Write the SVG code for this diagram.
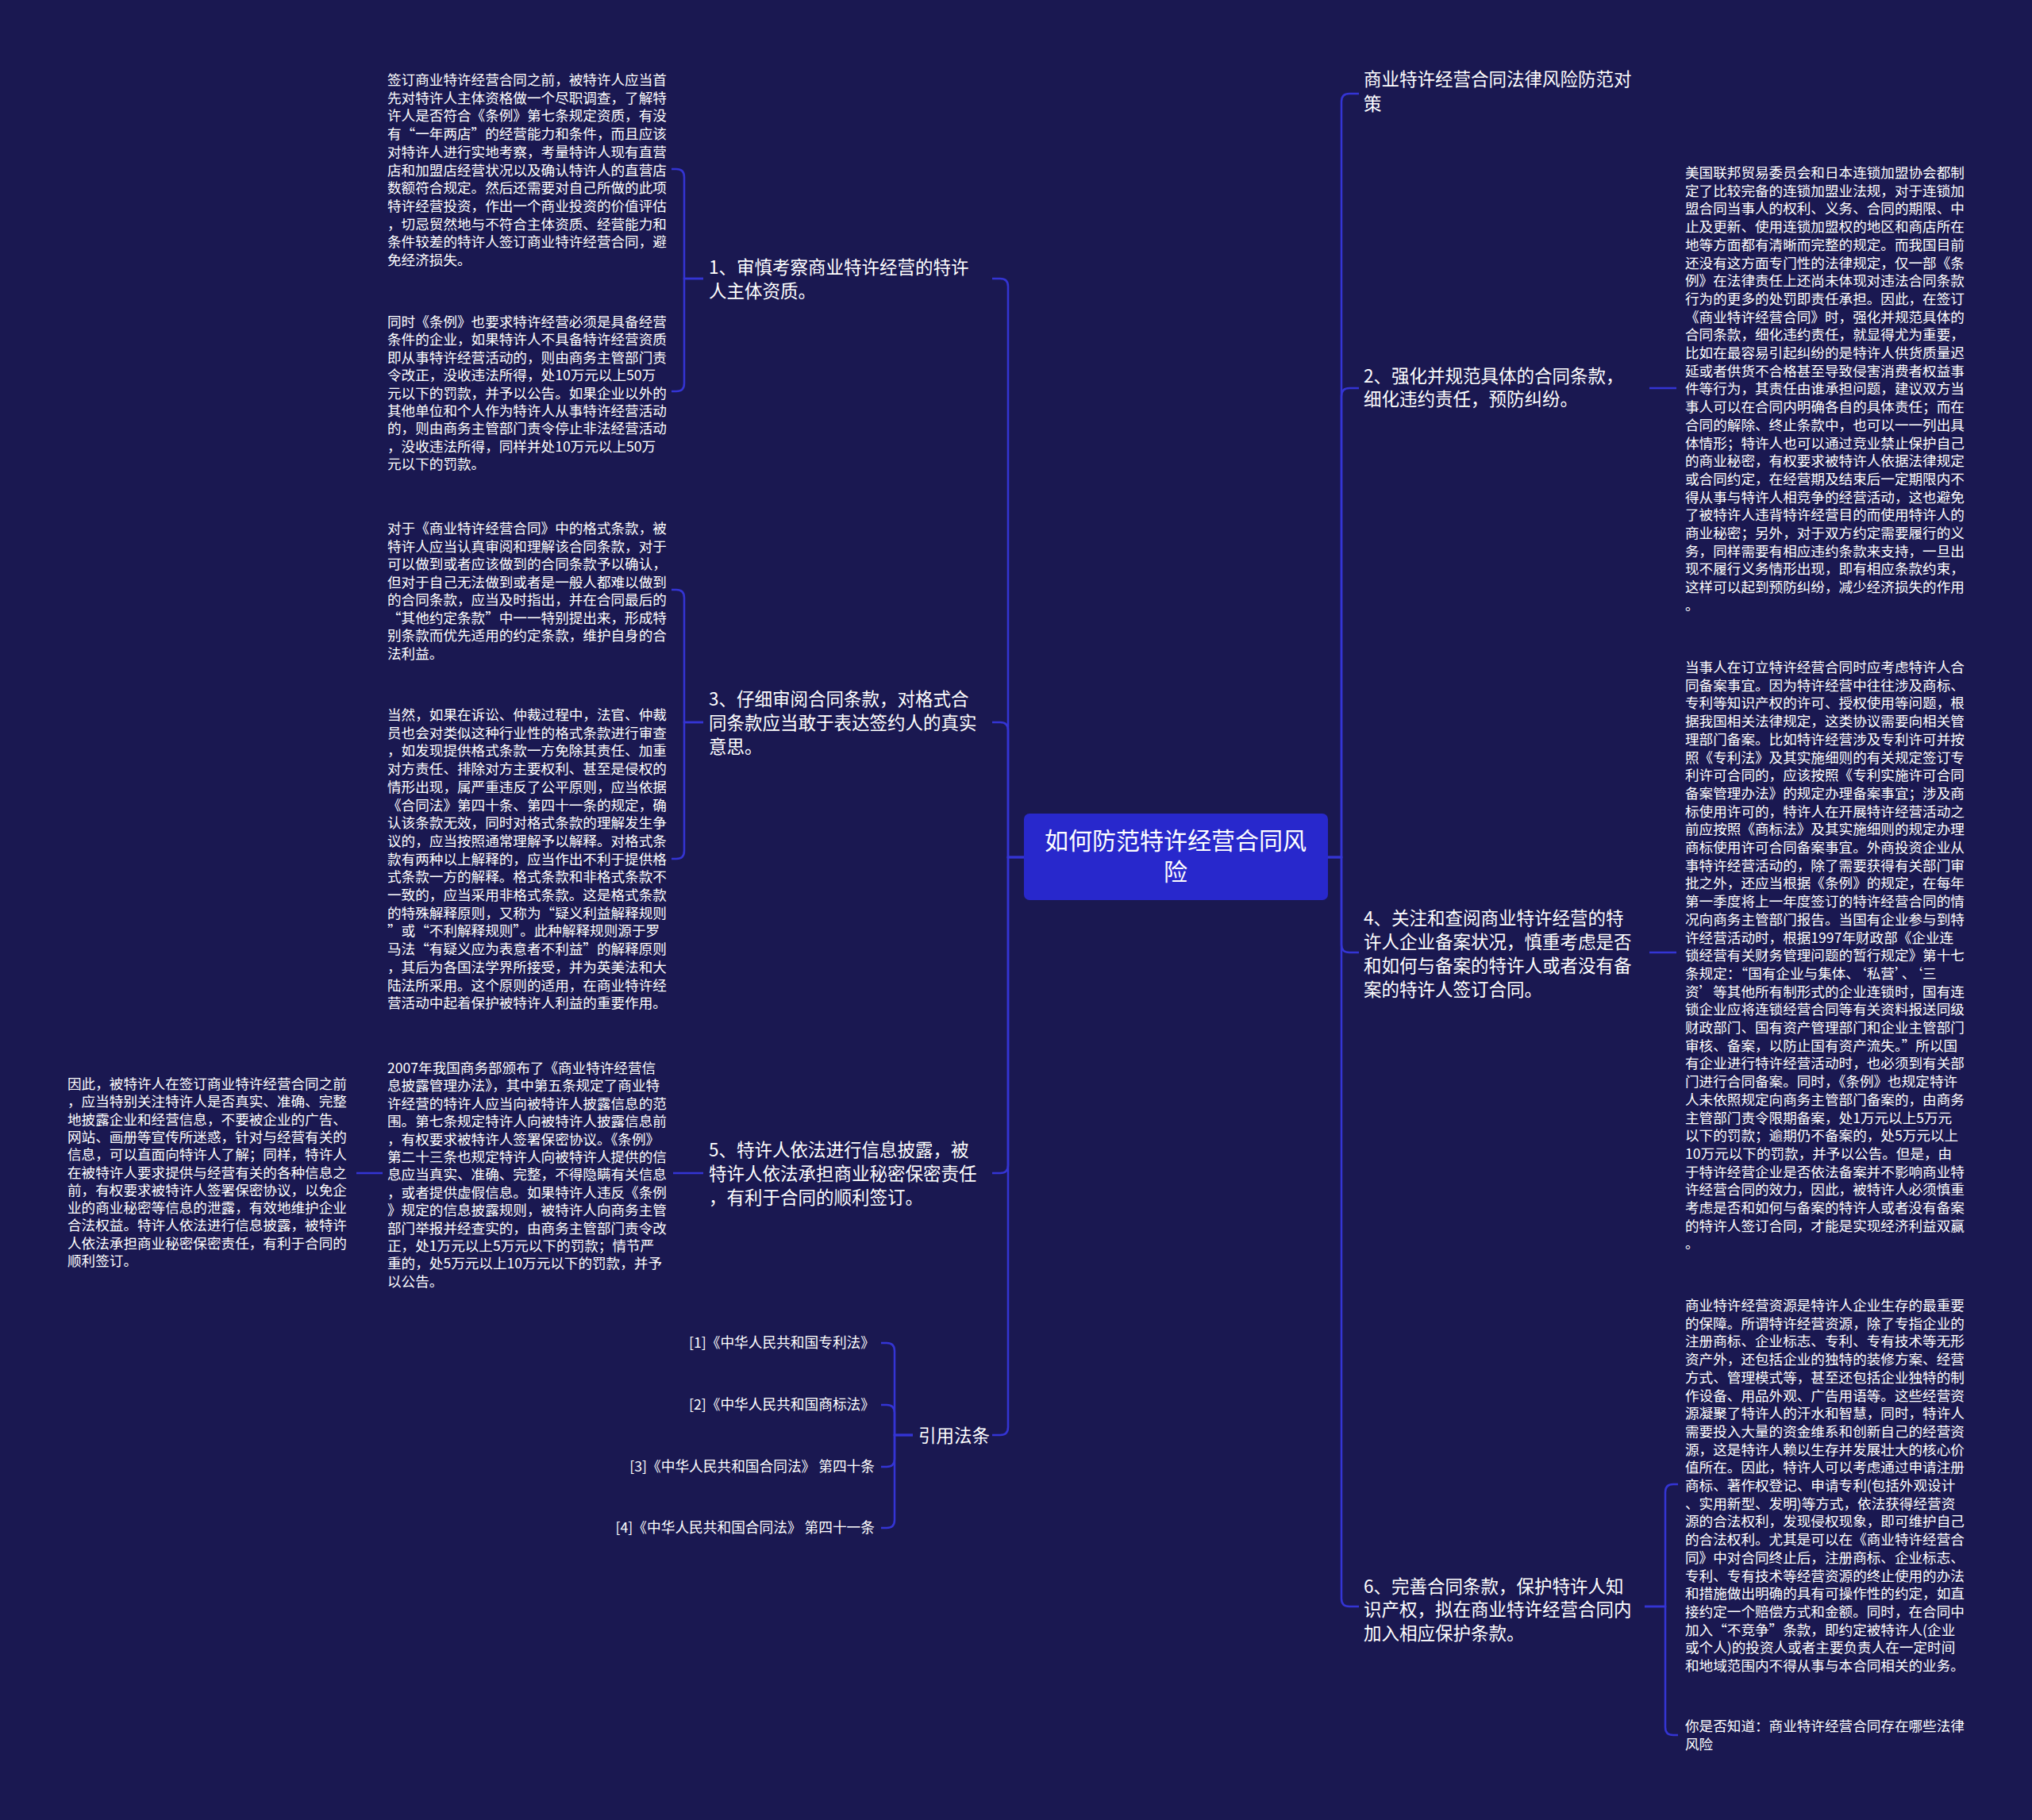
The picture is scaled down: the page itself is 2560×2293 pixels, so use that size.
<svg xmlns="http://www.w3.org/2000/svg" width="2560" height="2293" viewBox="0 0 2560 2293">
<style>
.t{font-family:"Noto Sans CJK SC","Noto Sans",sans-serif;fill:#ffffff}
.s{font-size:17.6px}
.l{font-size:22.5px}
.r{font-size:30px}
.f{font-size:17.7px}
.c{fill:none;stroke:#3434d4;stroke-width:2.5}
</style>
<rect width="2560" height="2293" fill="#1a1851"/>
<g id="connectors" class="c">
<path d="M1673,1080 H1690 V128 Q1690,118 1700,118 H1712"/>
<path d="M1673,1080 H1690 V499 Q1690,489 1700,489 H1712"/>
<path d="M1673,1080 H1690 V1190 Q1690,1200 1700,1200 H1712"/>
<path d="M1673,1080 H1690 V2014 Q1690,2024 1700,2024 H1712"/>
<path d="M1290,1080 H1270 V361 Q1270,351 1260,351 H1250"/>
<path d="M1290,1080 H1270 V920 Q1270,910 1260,910 H1250"/>
<path d="M1290,1080 H1270 V1468 Q1270,1478 1260,1478 H1250"/>
<path d="M1290,1080 H1270 V1798 Q1270,1808 1260,1808 H1250"/>
<path d="M2078,489 H2112"/>
<path d="M2078,1200 H2112"/>
<path d="M2072,2024 H2098 V1880 Q2098,1870 2108,1870 H2114"/>
<path d="M2072,2024 H2098 V2176 Q2098,2186 2108,2186 H2114"/>
<path d="M886,351 H862 V223 Q862,213 852,213 H846"/>
<path d="M886,351 H862 V483 Q862,493 852,493 H846"/>
<path d="M886,910 H862 V753 Q862,743 852,743 H846"/>
<path d="M886,910 H862 V1072 Q862,1082 852,1082 H846"/>
<path d="M886,1478 H848"/>
<path d="M482,1478 H449"/>
<path d="M1150,1808 H1127 V1702 Q1127,1692 1117,1692 H1110"/>
<path d="M1150,1808 H1127 V1780 Q1127,1770 1117,1770 H1110"/>
<path d="M1150,1808 H1127 V1838 Q1127,1848 1117,1848 H1110"/>
<path d="M1150,1808 H1127 V1915 Q1127,1925 1117,1925 H1110"/>
</g>
<g id="root">
<rect x="1290" y="1025" width="383" height="109" rx="7" fill="#2828cc"/>
<text class="t r" text-anchor="middle"><tspan x="1481" y="1070">如何防范特许经营合同风</tspan><tspan x="1481" y="1109">险</tspan></text>
</g>
<g id="r0"><text class="t l"><tspan x="1718" y="108">商业特许经营合同法律风险防范对</tspan><tspan x="1718" y="139">策</tspan></text></g>
<g id="r2"><text class="t l"><tspan x="1718" y="482">2、强化并规范具体的合同条款，</tspan><tspan x="1718" y="511">细化违约责任，预防纠纷。</tspan></text></g>
<g id="r4"><text class="t l"><tspan x="1718" y="1165">4、关注和查阅商业特许经营的特</tspan><tspan x="1718" y="1195">许人企业备案状况，慎重考虑是否</tspan><tspan x="1718" y="1225">和如何与备案的特许人或者没有备</tspan><tspan x="1718" y="1255">案的特许人签订合同。</tspan></text></g>
<g id="r6"><text class="t l"><tspan x="1718" y="2007">6、完善合同条款，保护特许人知</tspan><tspan x="1718" y="2036">识产权，拟在商业特许经营合同内</tspan><tspan x="1718" y="2066">加入相应保护条款。</tspan></text></g>
<g id="l1"><text class="t l"><tspan x="893" y="345">1、审慎考察商业特许经营的特许</tspan><tspan x="893" y="375">人主体资质。</tspan></text></g>
<g id="l3"><text class="t l"><tspan x="893" y="889">3、仔细审阅合同条款，对格式合</tspan><tspan x="893" y="919">同条款应当敢于表达签约人的真实</tspan><tspan x="893" y="949">意思。</tspan></text></g>
<g id="l5"><text class="t l"><tspan x="893" y="1457">5、特许人依法进行信息披露，被</tspan><tspan x="893" y="1487">特许人依法承担商业秘密保密责任</tspan><tspan x="893" y="1517">，有利于合同的顺利签订。</tspan></text></g>
<g id="lref"><text class="t l" x="1157" y="1817">引用法条</text></g>
<g id="ref1"><text class="t f" text-anchor="end" x="1102" y="1698">[1]《中华人民共和国专利法》</text></g>
<g id="ref2"><text class="t f" text-anchor="end" x="1102" y="1776">[2]《中华人民共和国商标法》</text></g>
<g id="ref3"><text class="t f" text-anchor="end" x="1102" y="1854">[3]《中华人民共和国合同法》 第四十条</text></g>
<g id="ref4"><text class="t f" text-anchor="end" x="1102" y="1931">[4]《中华人民共和国合同法》 第四十一条</text></g>
<g id="b1"><text class="t s" y="107"><tspan x="488">签订商业特许经营合同之前，被特许人应当首</tspan><tspan x="488" dy="22.7">先对特许人主体资格做一个尽职调查，了解特</tspan><tspan x="488" dy="22.7">许人是否符合《条例》第七条规定资质，有没</tspan><tspan x="488" dy="22.7">有“一年两店”的经营能力和条件，而且应该</tspan><tspan x="488" dy="22.7">对特许人进行实地考察，考量特许人现有直营</tspan><tspan x="488" dy="22.7">店和加盟店经营状况以及确认特许人的直营店</tspan><tspan x="488" dy="22.7">数额符合规定。然后还需要对自己所做的此项</tspan><tspan x="488" dy="22.7">特许经营投资，作出一个商业投资的价值评估</tspan><tspan x="488" dy="22.7">，切忌贸然地与不符合主体资质、经营能力和</tspan><tspan x="488" dy="22.7">条件较差的特许人签订商业特许经营合同，避</tspan><tspan x="488" dy="22.7">免经济损失。</tspan></text></g>
<g id="b2"><text class="t s" y="412"><tspan x="488">同时《条例》也要求特许经营必须是具备经营</tspan><tspan x="488" dy="22.4">条件的企业，如果特许人不具备特许经营资质</tspan><tspan x="488" dy="22.4">即从事特许经营活动的，则由商务主管部门责</tspan><tspan x="488" dy="22.4">令改正，没收违法所得，处10万元以上50万</tspan><tspan x="488" dy="22.4">元以下的罚款，并予以公告。如果企业以外的</tspan><tspan x="488" dy="22.4">其他单位和个人作为特许人从事特许经营活动</tspan><tspan x="488" dy="22.4">的，则由商务主管部门责令停止非法经营活动</tspan><tspan x="488" dy="22.4">，没收违法所得，同样并处10万元以上50万</tspan><tspan x="488" dy="22.4">元以下的罚款。</tspan></text></g>
<g id="b3"><text class="t s" y="672"><tspan x="488">对于《商业特许经营合同》中的格式条款，被</tspan><tspan x="488" dy="22.5">特许人应当认真审阅和理解该合同条款，对于</tspan><tspan x="488" dy="22.5">可以做到或者应该做到的合同条款予以确认，</tspan><tspan x="488" dy="22.5">但对于自己无法做到或者是一般人都难以做到</tspan><tspan x="488" dy="22.5">的合同条款，应当及时指出，并在合同最后的</tspan><tspan x="488" dy="22.5">“其他约定条款”中一一特别提出来，形成特</tspan><tspan x="488" dy="22.5">别条款而优先适用的约定条款，维护自身的合</tspan><tspan x="488" dy="22.5">法利益。</tspan></text></g>
<g id="b4"><text class="t s" y="907"><tspan x="488">当然，如果在诉讼、仲裁过程中，法官、仲裁</tspan><tspan x="488" dy="22.7">员也会对类似这种行业性的格式条款进行审查</tspan><tspan x="488" dy="22.7">，如发现提供格式条款一方免除其责任、加重</tspan><tspan x="488" dy="22.7">对方责任、排除对方主要权利、甚至是侵权的</tspan><tspan x="488" dy="22.7">情形出现，属严重违反了公平原则，应当依据</tspan><tspan x="488" dy="22.7">《合同法》第四十条、第四十一条的规定，确</tspan><tspan x="488" dy="22.7">认该条款无效，同时对格式条款的理解发生争</tspan><tspan x="488" dy="22.7">议的，应当按照通常理解予以解释。对格式条</tspan><tspan x="488" dy="22.7">款有两种以上解释的，应当作出不利于提供格</tspan><tspan x="488" dy="22.7">式条款一方的解释。格式条款和非格式条款不</tspan><tspan x="488" dy="22.7">一致的，应当采用非格式条款。这是格式条款</tspan><tspan x="488" dy="22.7">的特殊解释原则，又称为“疑义利益解释规则</tspan><tspan x="488" dy="22.7">”或“不利解释规则”。此种解释规则源于罗</tspan><tspan x="488" dy="22.7">马法“有疑义应为表意者不利益”的解释原则</tspan><tspan x="488" dy="22.7">，其后为各国法学界所接受，并为英美法和大</tspan><tspan x="488" dy="22.7">陆法所采用。这个原则的适用，在商业特许经</tspan><tspan x="488" dy="22.7">营活动中起着保护被特许人利益的重要作用。</tspan></text></g>
<g id="b5"><text class="t s" y="1352"><tspan x="488">2007年我国商务部颁布了《商业特许经营信</tspan><tspan x="488" dy="22.4">息披露管理办法》，其中第五条规定了商业特</tspan><tspan x="488" dy="22.4">许经营的特许人应当向被特许人披露信息的范</tspan><tspan x="488" dy="22.4">围。第七条规定特许人向被特许人披露信息前</tspan><tspan x="488" dy="22.4">，有权要求被特许人签署保密协议。《条例》</tspan><tspan x="488" dy="22.4">第二十三条也规定特许人向被特许人提供的信</tspan><tspan x="488" dy="22.4">息应当真实、准确、完整，不得隐瞒有关信息</tspan><tspan x="488" dy="22.4">，或者提供虚假信息。如果特许人违反《条例</tspan><tspan x="488" dy="22.4">》规定的信息披露规则，被特许人向商务主管</tspan><tspan x="488" dy="22.4">部门举报并经查实的，由商务主管部门责令改</tspan><tspan x="488" dy="22.4">正，处1万元以上5万元以下的罚款；情节严</tspan><tspan x="488" dy="22.4">重的，处5万元以上10万元以下的罚款，并予</tspan><tspan x="488" dy="22.4">以公告。</tspan></text></g>
<g id="b6"><text class="t s" y="1372"><tspan x="85">因此，被特许人在签订商业特许经营合同之前</tspan><tspan x="85" dy="22.3">，应当特别关注特许人是否真实、准确、完整</tspan><tspan x="85" dy="22.3">地披露企业和经营信息，不要被企业的广告、</tspan><tspan x="85" dy="22.3">网站、画册等宣传所迷惑，针对与经营有关的</tspan><tspan x="85" dy="22.3">信息，可以直面向特许人了解；同样，特许人</tspan><tspan x="85" dy="22.3">在被特许人要求提供与经营有关的各种信息之</tspan><tspan x="85" dy="22.3">前，有权要求被特许人签署保密协议，以免企</tspan><tspan x="85" dy="22.3">业的商业秘密等信息的泄露，有效地维护企业</tspan><tspan x="85" dy="22.3">合法权益。特许人依法进行信息披露，被特许</tspan><tspan x="85" dy="22.3">人依法承担商业秘密保密责任，有利于合同的</tspan><tspan x="85" dy="22.3">顺利签订。</tspan></text></g>
<g id="rb1"><text class="t s" y="224"><tspan x="2123">美国联邦贸易委员会和日本连锁加盟协会都制</tspan><tspan x="2123" dy="22.7">定了比较完备的连锁加盟业法规，对于连锁加</tspan><tspan x="2123" dy="22.7">盟合同当事人的权利、义务、合同的期限、中</tspan><tspan x="2123" dy="22.7">止及更新、使用连锁加盟权的地区和商店所在</tspan><tspan x="2123" dy="22.7">地等方面都有清晰而完整的规定。而我国目前</tspan><tspan x="2123" dy="22.7">还没有这方面专门性的法律规定，仅一部《条</tspan><tspan x="2123" dy="22.7">例》在法律责任上还尚未体现对违法合同条款</tspan><tspan x="2123" dy="22.7">行为的更多的处罚即责任承担。因此，在签订</tspan><tspan x="2123" dy="22.7">《商业特许经营合同》时，强化并规范具体的</tspan><tspan x="2123" dy="22.7">合同条款，细化违约责任，就显得尤为重要，</tspan><tspan x="2123" dy="22.7">比如在最容易引起纠纷的是特许人供货质量迟</tspan><tspan x="2123" dy="22.7">延或者供货不合格甚至导致侵害消费者权益事</tspan><tspan x="2123" dy="22.7">件等行为，其责任由谁承担问题，建议双方当</tspan><tspan x="2123" dy="22.7">事人可以在合同内明确各自的具体责任；而在</tspan><tspan x="2123" dy="22.7">合同的解除、终止条款中，也可以一一列出具</tspan><tspan x="2123" dy="22.7">体情形；特许人也可以通过竞业禁止保护自己</tspan><tspan x="2123" dy="22.7">的商业秘密，有权要求被特许人依据法律规定</tspan><tspan x="2123" dy="22.7">或合同约定，在经营期及结束后一定期限内不</tspan><tspan x="2123" dy="22.7">得从事与特许人相竞争的经营活动，这也避免</tspan><tspan x="2123" dy="22.7">了被特许人违背特许经营目的而使用特许人的</tspan><tspan x="2123" dy="22.7">商业秘密；另外，对于双方约定需要履行的义</tspan><tspan x="2123" dy="22.7">务，同样需要有相应违约条款来支持，一旦出</tspan><tspan x="2123" dy="22.7">现不履行义务情形出现，即有相应条款约束，</tspan><tspan x="2123" dy="22.7">这样可以起到预防纠纷，减少经济损失的作用</tspan><tspan x="2123" dy="22.7">。</tspan></text></g>
<g id="rb2"><text class="t s" y="847"><tspan x="2123">当事人在订立特许经营合同时应考虑特许人合</tspan><tspan x="2123" dy="22.7">同备案事宜。因为特许经营中往往涉及商标、</tspan><tspan x="2123" dy="22.7">专利等知识产权的许可、授权使用等问题，根</tspan><tspan x="2123" dy="22.7">据我国相关法律规定，这类协议需要向相关管</tspan><tspan x="2123" dy="22.7">理部门备案。比如特许经营涉及专利许可并按</tspan><tspan x="2123" dy="22.7">照《专利法》及其实施细则的有关规定签订专</tspan><tspan x="2123" dy="22.7">利许可合同的，应该按照《专利实施许可合同</tspan><tspan x="2123" dy="22.7">备案管理办法》的规定办理备案事宜；涉及商</tspan><tspan x="2123" dy="22.7">标使用许可的，特许人在开展特许经营活动之</tspan><tspan x="2123" dy="22.7">前应按照《商标法》及其实施细则的规定办理</tspan><tspan x="2123" dy="22.7">商标使用许可合同备案事宜。外商投资企业从</tspan><tspan x="2123" dy="22.7">事特许经营活动的，除了需要获得有关部门审</tspan><tspan x="2123" dy="22.7">批之外，还应当根据《条例》的规定，在每年</tspan><tspan x="2123" dy="22.7">第一季度将上一年度签订的特许经营合同的情</tspan><tspan x="2123" dy="22.7">况向商务主管部门报告。当国有企业参与到特</tspan><tspan x="2123" dy="22.7">许经营活动时，根据1997年财政部《企业连</tspan><tspan x="2123" dy="22.7">锁经营有关财务管理问题的暂行规定》第十七</tspan><tspan x="2123" dy="22.7">条规定：“国有企业与集体、‘私营’、‘三</tspan><tspan x="2123" dy="22.7">资’等其他所有制形式的企业连锁时，国有连</tspan><tspan x="2123" dy="22.7">锁企业应将连锁经营合同等有关资料报送同级</tspan><tspan x="2123" dy="22.7">财政部门、国有资产管理部门和企业主管部门</tspan><tspan x="2123" dy="22.7">审核、备案，以防止国有资产流失。”所以国</tspan><tspan x="2123" dy="22.7">有企业进行特许经营活动时，也必须到有关部</tspan><tspan x="2123" dy="22.7">门进行合同备案。同时，《条例》也规定特许</tspan><tspan x="2123" dy="22.7">人未依照规定向商务主管部门备案的，由商务</tspan><tspan x="2123" dy="22.7">主管部门责令限期备案，处1万元以上5万元</tspan><tspan x="2123" dy="22.7">以下的罚款；逾期仍不备案的，处5万元以上</tspan><tspan x="2123" dy="22.7">10万元以下的罚款，并予以公告。但是，由</tspan><tspan x="2123" dy="22.7">于特许经营企业是否依法备案并不影响商业特</tspan><tspan x="2123" dy="22.7">许经营合同的效力，因此，被特许人必须慎重</tspan><tspan x="2123" dy="22.7">考虑是否和如何与备案的特许人或者没有备案</tspan><tspan x="2123" dy="22.7">的特许人签订合同，才能是实现经济利益双赢</tspan><tspan x="2123" dy="22.7">。</tspan></text></g>
<g id="rb3"><text class="t s" y="1651"><tspan x="2123">商业特许经营资源是特许人企业生存的最重要</tspan><tspan x="2123" dy="22.7">的保障。所谓特许经营资源，除了专指企业的</tspan><tspan x="2123" dy="22.7">注册商标、企业标志、专利、专有技术等无形</tspan><tspan x="2123" dy="22.7">资产外，还包括企业的独特的装修方案、经营</tspan><tspan x="2123" dy="22.7">方式、管理模式等，甚至还包括企业独特的制</tspan><tspan x="2123" dy="22.7">作设备、用品外观、广告用语等。这些经营资</tspan><tspan x="2123" dy="22.7">源凝聚了特许人的汗水和智慧，同时，特许人</tspan><tspan x="2123" dy="22.7">需要投入大量的资金维系和创新自己的经营资</tspan><tspan x="2123" dy="22.7">源，这是特许人赖以生存并发展壮大的核心价</tspan><tspan x="2123" dy="22.7">值所在。因此，特许人可以考虑通过申请注册</tspan><tspan x="2123" dy="22.7">商标、著作权登记、申请专利(包括外观设计</tspan><tspan x="2123" dy="22.7">、实用新型、发明)等方式，依法获得经营资</tspan><tspan x="2123" dy="22.7">源的合法权利，发现侵权现象，即可维护自己</tspan><tspan x="2123" dy="22.7">的合法权利。尤其是可以在《商业特许经营合</tspan><tspan x="2123" dy="22.7">同》中对合同终止后，注册商标、企业标志、</tspan><tspan x="2123" dy="22.7">专利、专有技术等经营资源的终止使用的办法</tspan><tspan x="2123" dy="22.7">和措施做出明确的具有可操作性的约定，如直</tspan><tspan x="2123" dy="22.7">接约定一个赔偿方式和金额。同时，在合同中</tspan><tspan x="2123" dy="22.7">加入“不竞争”条款，即约定被特许人(企业</tspan><tspan x="2123" dy="22.7">或个人)的投资人或者主要负责人在一定时间</tspan><tspan x="2123" dy="22.7">和地域范围内不得从事与本合同相关的业务。</tspan></text></g>
<g id="rb4"><text class="t s" y="2181"><tspan x="2123">你是否知道：商业特许经营合同存在哪些法律</tspan><tspan x="2123" dy="22.7">风险</tspan></text></g>
</svg>
